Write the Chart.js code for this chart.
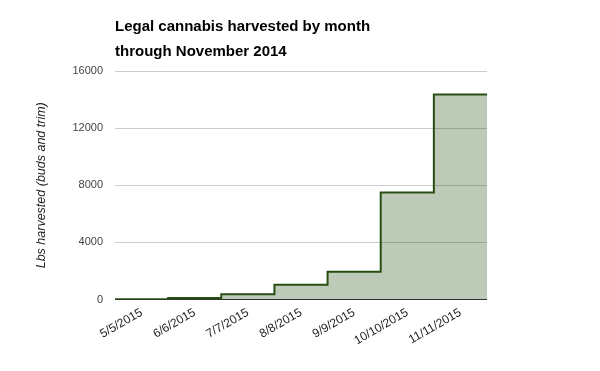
<!DOCTYPE html>
<html>
<head>
<meta charset="utf-8">
<script src="https://cdn.jsdelivr.net/npm/chart.js@4"></script>
<style>
  html, body { margin: 0; padding: 0; background: #fff; }
  #wrap { width: 600px; height: 371px; }
</style>
</head>
<body>
<div id="wrap"><canvas id="harvest-chart" width="600" height="371"></canvas></div>
<script>
// months (x labels) and lbs harvested for each one
var months = ['5/5/2015', '6/6/2015', '7/7/2015', '8/8/2015', '9/9/2015', '10/10/2015', '11/11/2015'];
var lbsHarvested = [20, 100, 370, 1030, 1950, 7500, 14350];
var yTicks = [0, 4000, 8000, 12000, 16000];

// stepped line needs one point per band edge, so repeat the last value
var stepPoints = lbsHarvested.map(function (v, i) { return { x: i, y: v }; });
stepPoints.push({ x: lbsHarvested.length, y: lbsHarvested[lbsHarvested.length - 1] });

var ctx = document.getElementById('harvest-chart').getContext('2d');
var chart = new Chart(ctx, {
    type: 'line',
    data: {
        labels: months,
        datasets: [{
            data: stepPoints,
            xAxisID: 'xs',
            stepped: 'before',
            borderColor: '#274e13',
            borderWidth: 2,
            backgroundColor: 'rgba(39, 78, 19, 0.3)',
            fill: 'origin',
            pointRadius: 0
        }]
    },
    options: {
        responsive: false,
        animation: false,
        layout: { padding: { left: 10, right: 113, top: 14, bottom: 17 } },
        plugins: {
            legend: { display: false },
            tooltip: { enabled: false },
            title: {
                display: true,
                fullSize: false,
                align: 'start',
                text: ['Legal cannabis harvested by month', 'through November 2014'],
                color: '#000',
                font: { family: 'Arial, "Liberation Sans"', size: 15, weight: 'bold', lineHeight: 1.667 },
                padding: { top: 0, bottom: 7 }
            }
        },
        scales: {
            x: {
                type: 'category',
                offset: true,
                grid: { display: false, drawTicks: false },
                border: { display: false },
                ticks: {
                    maxRotation: 30,
                    minRotation: 30,
                    autoSkip: false,
                    padding: 6,
                    color: '#222',
                    font: { family: 'Arial, "Liberation Sans"', size: 12 }
                }
            },
            xs: {
                type: 'linear',
                display: false,
                min: 0,
                max: months.length
            },
            y: {
                min: 0,
                max: 16000,
                afterBuildTicks: function (axis) {
                    axis.ticks = yTicks.map(function (v) { return { value: v }; });
                },
                afterFit: function (axis) { axis.width = 105; },
                grid: {
                    color: function (c) { return c.tick.value === 0 ? '#333' : '#ccc'; },
                    drawTicks: false
                },
                border: { display: false },
                ticks: {
                    padding: 12,
                    color: '#444',
                    font: { family: 'Arial, "Liberation Sans"', size: 11 },
                    callback: function (v) { return String(v); }
                },
                title: {
                    display: true,
                    text: 'Lbs harvested (buds and trim)',
                    color: '#222',
                    font: { family: 'Arial, "Liberation Sans"', size: 12.5, style: 'italic' },
                    padding: { top: 24, bottom: 0 }
                }
            }
        }
    }
});
</script>
</body>
</html>
